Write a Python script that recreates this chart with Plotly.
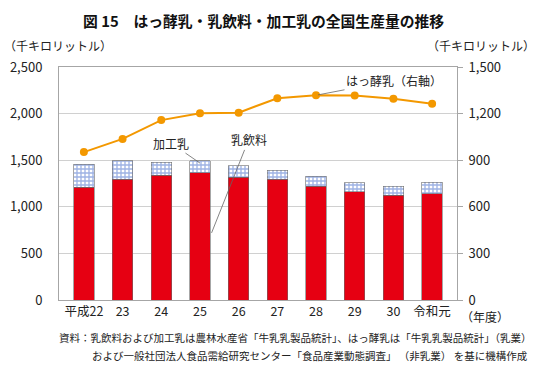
import plotly.graph_objects as go

years = ["平成22", "23", "24", "25", "26", "27", "28", "29", "30", "令和元"]
milk_beverage = [1212, 1293, 1340, 1365, 1318, 1293, 1222, 1161, 1122, 1140]   # 乳飲料
processed_milk = [247, 200, 139, 128, 125, 100, 107, 96, 100, 125]            # 加工乳
fermented_milk = [952, 1037, 1158, 1202, 1206, 1299, 1318, 1316, 1296, 1264]  # はっ酵乳 (右軸)

FONT = "Noto Sans CJK JP"

fig = go.Figure()
fig.add_trace(go.Bar(
    x=years, y=milk_beverage, name="乳飲料",
    marker=dict(color="#e60012", line=dict(color="#6b6b6b", width=0.6)),
))
fig.add_trace(go.Bar(
    x=years, y=processed_milk, name="加工乳",
    marker=dict(color="white", line=dict(color="#6b6b6b", width=0.6),
                pattern=dict(shape="+", fgcolor="#3b63c8", bgcolor="white",
                             size=4, solidity=0.55)),
))
fig.add_trace(go.Scatter(
    x=years, y=fermented_milk, name="はっ酵乳", yaxis="y2",
    mode="lines+markers",
    line=dict(color="#f39800", width=2),
    marker=dict(color="#f39800", size=8),
))

fig.update_layout(
    width=558, height=372,
    margin=dict(l=59, r=101, t=67, b=72),
    paper_bgcolor="white", plot_bgcolor="white",
    barmode="stack", bargap=0.47,
    showlegend=False,
    font=dict(family=FONT, size=12, color="#222"),
    xaxis=dict(
        type="category", showgrid=False, ticks="", automargin=False,
        showline=True, linecolor="#a6a6a6", linewidth=1, mirror=True,
        tickfont=dict(size=12.5, color="#222"),
    ),
    yaxis=dict(
        range=[0, 2500], dtick=500, tickformat=",", automargin=False,
        showgrid=True, gridcolor="#d0d0d0", gridwidth=1,
        showline=True, linecolor="#a6a6a6", linewidth=1, mirror=True,
        zeroline=False, ticks="", ticklabelstandoff=13,
        tickfont=dict(size=13, color="#222"),
    ),
    yaxis2=dict(
        range=[0, 1500], dtick=300, tickformat=",", automargin=False,
        overlaying="y", side="right", showgrid=False, zeroline=False,
        showline=True, linecolor="#a6a6a6", linewidth=1,
        ticks="outside", ticklen=5, tickcolor="#a6a6a6",
        ticklabelstandoff=3,
        tickfont=dict(size=13, color="#222"),
    ),
)

annotations = [
    dict(text="<b>図 15　はっ酵乳・乳飲料・加工乳の全国生産量の推移</b>",
         xref="paper", yref="paper", x=0.513, y=1.0, yshift=47,
         xanchor="center", yanchor="middle", showarrow=False,
         font=dict(size=14.8, color="#111")),
    dict(text="（千キロリットル）", xref="paper", yref="paper",
         x=0, xshift=-57, y=1.0, yshift=22, xanchor="left", yanchor="middle",
         showarrow=False, font=dict(size=12)),
    dict(text="（千キロリットル）", xref="paper", yref="paper",
         x=1.0, xshift=-32, y=1.0, yshift=22, xanchor="left", yanchor="middle",
         showarrow=False, font=dict(size=12)),
    dict(text="（年度）", xref="paper", yref="paper",
         x=1.0, xshift=2, y=0, yshift=-16, xanchor="left", yanchor="middle",
         showarrow=False, font=dict(size=12)),
    dict(text="資料：乳飲料および加工乳は農林水産省「牛乳乳製品統計」、はっ酵乳は「牛乳乳製品統計」（乳業）",
         xref="paper", yref="paper", x=0, xshift=-2, y=0, yshift=-37,
         xanchor="left", yanchor="middle", showarrow=False, font=dict(size=10.5)),
    dict(text="および一般社団法人食品需給研究センター「食品産業動態調査」 （非乳業） を基に機構作成",
         xref="paper", yref="paper", x=0, xshift=31, y=0, yshift=-55,
         xanchor="left", yanchor="middle", showarrow=False, font=dict(size=10.5)),
    dict(text="加工乳", x=3, y=processed_milk[3] * 0.5 + milk_beverage[3] + 40,
         xref="x", yref="y", ax=-29, ay=-20, showarrow=True, arrowhead=0,
         arrowwidth=0.8, arrowcolor="#666", font=dict(size=12)),
    dict(text="乳飲料", x=3.3, y=720, xref="x", yref="y",
         ax=37, ay=-93, showarrow=True, arrowhead=0,
         arrowwidth=0.8, arrowcolor="#666", font=dict(size=12)),
    dict(text="はっ酵乳（右軸）", x=6, y=fermented_milk[6], xref="x", yref="y2",
         ax=78, ay=-15, showarrow=True, arrowhead=0, standoff=2,
         arrowwidth=0.8, arrowcolor="#666", font=dict(size=12)),
]
fig.update_layout(annotations=annotations)

fig.write_html(
    "out.html",
    config={"displayModeBar": False},
    post_script="document.body.style.margin='0';document.body.style.overflow='hidden';",
)
